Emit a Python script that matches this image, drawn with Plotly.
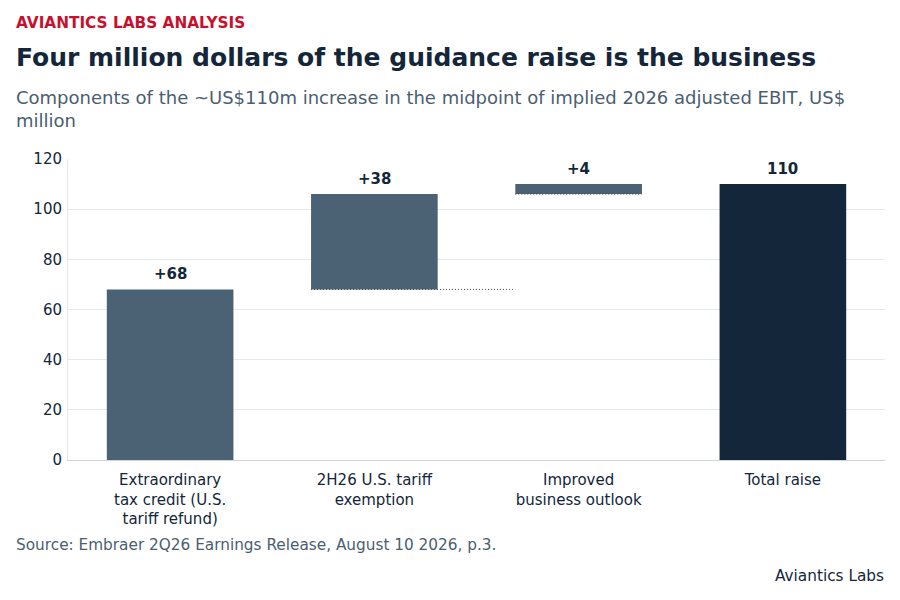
import plotly.graph_objects as go

categories = ["Extraordinary<br>tax credit (U.S.<br>tariff refund)",
              "2H26 U.S. tariff<br>exemption",
              "Improved<br>business outlook",
              "Total raise"]
values = [68, 38, 4, 110]
measures = ["relative", "relative", "relative", "total"]
labels = ["+68", "+38", "+4", "110"]

DARK = "#13263a"
MID = "#4b6174"
GREY = "#4a5e70"
RED = "#c8102e"
FONT = "DejaVu Sans"
BAR_W = 0.62

xs = list(range(len(categories)))

fig = go.Figure(go.Waterfall(
    x=xs, y=values, measure=measures,
    increasing=dict(marker=dict(color=MID)),
    totals=dict(marker=dict(color=DARK)),
    connector=dict(visible=False),
    width=BAR_W,
    hoverinfo="skip",
))

# cumulative bases / ends computed from the data
bases, ends = [], []
run = 0
for v, m in zip(values, measures):
    if m == "total":
        bases.append(0)
        ends.append(v)
        run = v
    else:
        bases.append(run)
        run += v
        ends.append(run)

# dotted connectors at each floating bar's base
for i in range(1, len(values)):
    if measures[i] != "relative":
        continue
    x0 = xs[i] - BAR_W / 2
    if i + 1 < len(values) and measures[i + 1] == "relative":
        x1 = xs[i + 1] - BAR_W / 2
    else:
        x1 = xs[i] + BAR_W / 2
    fig.add_trace(go.Scatter(x=[x0, x1], y=[bases[i], bases[i]], mode="lines",
                             line=dict(color="#4a4a4a", width=1, dash="1px,2px"),
                             hoverinfo="skip", cliponaxis=False))

# value labels
for x, e, t in zip(xs, ends, labels):
    fig.add_annotation(x=x, y=e, text=f"<b>{t}</b>", showarrow=False,
                       xanchor="center", yanchor="bottom", yshift=4,
                       font=dict(family=FONT, size=15, color=DARK))

L, R, T, B = 68, 15, 159, 140

def px_x(px):
    return (px - L) / (900 - L - R)

def px_y(py):
    return (600 - B - py) / (600 - T - B)

fig.update_layout(
    width=900, height=600,
    paper_bgcolor="white", plot_bgcolor="white",
    margin=dict(l=L, r=R, t=T, b=B),
    showlegend=False,
    font=dict(family=FONT, size=15, color=DARK),
    xaxis=dict(range=[-0.5, len(categories) - 0.5], tickvals=xs, ticktext=categories,
               showgrid=False, zeroline=False, showline=True, linecolor="#cfd4d9", linewidth=1,
               tickfont=dict(size=15, color=DARK), ticks="", ticklabelstandoff=6),
    yaxis=dict(range=[0, 120], tickvals=[0, 20, 40, 60, 80, 100, 120],
               showgrid=True, gridcolor="#e6e9ec", gridwidth=1,
               showline=True, linecolor="#e6e9ec", zeroline=False,
               tickfont=dict(size=15, color=DARK), ticks="", ticklabelstandoff=2),
)

fig.add_annotation(text="<b>AVIANTICS LABS ANALYSIS</b>", xref="paper", yref="paper",
                   x=px_x(14), y=px_y(23), xanchor="left", yanchor="middle",
                   showarrow=False, font=dict(size=15.3, color=RED, family=FONT))
fig.add_annotation(text="<b>Four million dollars of the guidance raise is the business</b>",
                   xref="paper", yref="paper", x=px_x(14), y=px_y(58),
                   xanchor="left", yanchor="middle", showarrow=False,
                   font=dict(size=25, color=DARK, family=FONT))
fig.add_annotation(text="Components of the ~US$110m increase in the midpoint of implied 2026 adjusted EBIT, US$<br>million",
                   xref="paper", yref="paper", x=px_x(14), y=px_y(85),
                   xanchor="left", yanchor="top", align="left", showarrow=False,
                   font=dict(size=18, color=GREY, family=FONT))
fig.add_annotation(text="Source: Embraer 2Q26 Earnings Release, August 10 2026, p.3.",
                   xref="paper", yref="paper", x=px_x(14), y=px_y(545),
                   xanchor="left", yanchor="middle", showarrow=False,
                   font=dict(size=15.3, color=GREY, family=FONT))
fig.add_annotation(text="Aviantics Labs",
                   xref="paper", yref="paper", x=px_x(886), y=px_y(576),
                   xanchor="right", yanchor="middle", showarrow=False,
                   font=dict(size=15.3, color=DARK, family=FONT))

fig.write_html("out.html", config={"displayModeBar": False},
               post_script="document.body.style.margin='0';")
